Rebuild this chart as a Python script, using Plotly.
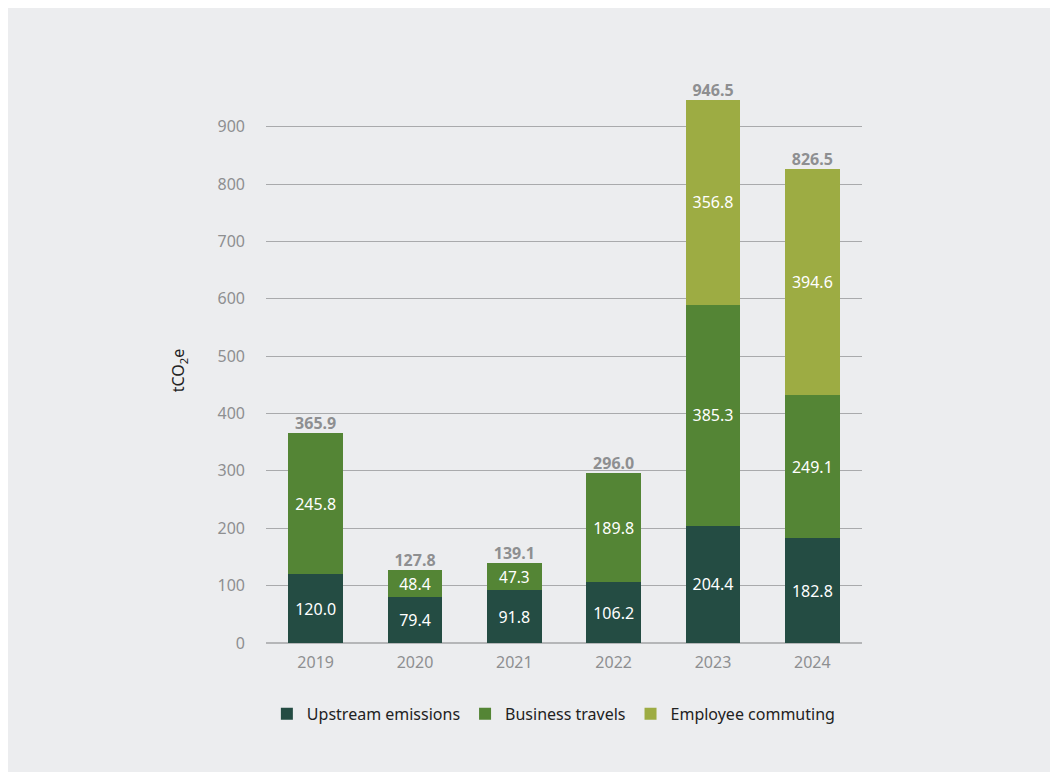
import plotly.graph_objects as go

years = ["2019", "2020", "2021", "2022", "2023", "2024"]
upstream = [120.0, 79.4, 91.8, 106.2, 204.4, 182.8]
business = [245.8, 48.4, 47.3, 189.8, 385.3, 249.1]
commuting = [None, None, None, None, 356.8, 394.6]
totals = [365.9, 127.8, 139.1, 296.0, 946.5, 826.5]

C_UP = "#244C43"
C_BUS = "#548535"
C_COM = "#9DAC43"
BG = "#ECEDEF"
FONT = "Noto Sans"

def fmt(vals):
    return ["" if v is None else f"{v:.1f}" for v in vals]

fig = go.Figure()
for name, vals, col in [("Upstream emissions", upstream, C_UP),
                        ("Business travels", business, C_BUS),
                        ("Employee commuting", commuting, C_COM)]:
    fig.add_trace(go.Bar(
        x=years, y=vals, name=name, marker=dict(color=col, line=dict(width=0)),
        text=fmt(vals), textposition="inside", insidetextanchor="middle",
        textfont=dict(color="white", size=16, family=FONT),
        hoverinfo="skip",
    ))

fig.add_trace(go.Scatter(
    x=years, y=totals, mode="text", text=[f"<b>{t:.1f}</b>" for t in totals],
    textposition="top center", showlegend=False, hoverinfo="skip",
    textfont=dict(color="#8E8F91", size=16, family=FONT), cliponaxis=False,
))

fig.update_layout(
    barmode="stack", bargap=0.45,
    width=1050, height=764,
    margin=dict(l=258, r=196, t=90, b=129),
    paper_bgcolor=BG, plot_bgcolor=BG,
    font=dict(family=FONT, color="#8E8F91", size=15),
    showlegend=True,
    legend=dict(orientation="h", x=0.483, xanchor="center", y=-0.13, yanchor="middle",
                traceorder="normal",
                font=dict(color="#222222", size=16, family=FONT),
                bgcolor="rgba(0,0,0,0)"),
)
fig.update_xaxes(type="category", showgrid=False, ticks="", ticklabelstandoff=8,
                 tickfont=dict(size=16, color="#8E8F91"), showline=False)
fig.update_yaxes(range=[0, 950], tickvals=[0, 100, 200, 300, 400, 500, 600, 700, 800, 900],
                 showgrid=True, gridcolor="#A9AAAC", gridwidth=1,
                 zeroline=True, zerolinecolor="#B5B6B8", zerolinewidth=2,
                 ticks="", ticklabelstandoff=20,
                 tickfont=dict(size=16, color="#8E8F91"),
                 title=dict(text="tCO<sub>2</sub>e", font=dict(size=16, color="#222222", family=FONT),
                            standoff=28))

fig.write_html("out.html")
